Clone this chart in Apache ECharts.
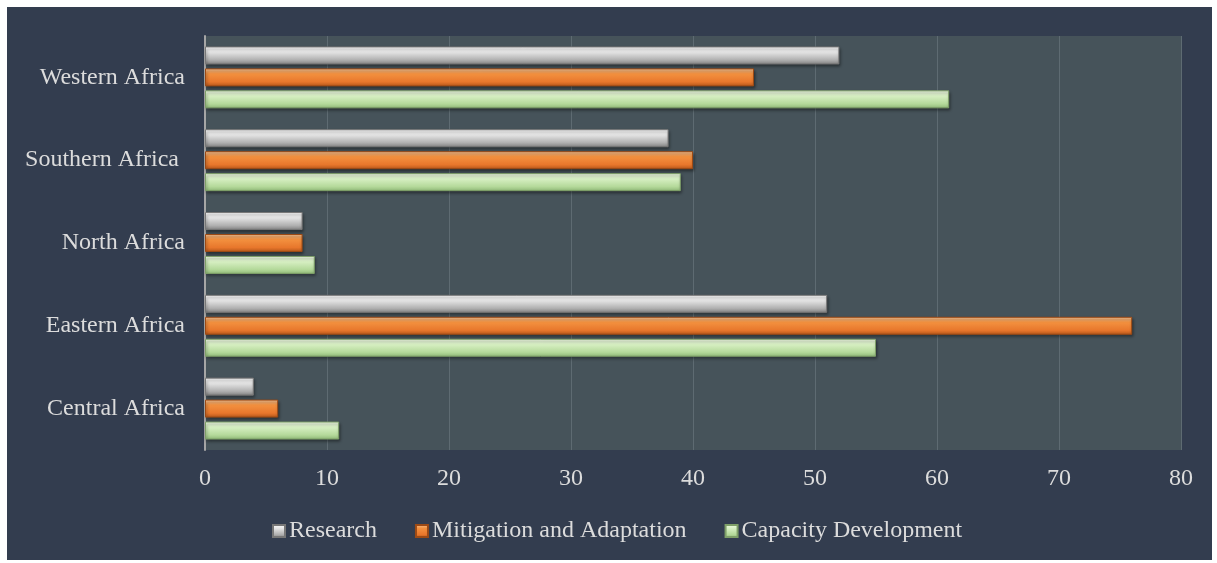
<!DOCTYPE html>
<html><head><meta charset="utf-8">
<script src="https://cdn.jsdelivr.net/npm/echarts@6/dist/echarts.min.js"></script>
<style>html,body{margin:0;padding:0;background:#fff;}#c{position:absolute;left:7px;top:7px;width:1205px;height:553px;}</style>
</head><body><div id="c"></div>
<script>
const categories = ['Central Africa','Eastern Africa','North Africa','Southern Africa ','Western Africa'];
const research = [4, 51, 8, 38, 52];
const mitigation = [6, 76, 8, 40, 45];
const capacity = [11, 55, 9, 39, 61];
const xTicks = {min:0, max:80, interval:10};

function grad(a,b,c,d){
  return new echarts.graphic.LinearGradient(0,0,0,1,[
    {offset:0,color:a},{offset:0.3,color:b},{offset:0.75,color:c},{offset:1,color:d}]);
}
const serif = '"Liberation Serif","DejaVu Serif",serif';
const chart = echarts.init(document.getElementById('c'));
const mk = (name, data, g, border) => ({
  name, type:'bar', data, barWidth:18, barGap:'22%',
  itemStyle:{color:g, borderColor:border, borderWidth:1, shadowColor:'rgba(0,0,0,0.45)', shadowBlur:3, shadowOffsetX:1, shadowOffsetY:2}
});
chart.setOption({
  backgroundColor:'#333d4f',
  animation:false,
  textStyle:{fontFamily:serif},
  grid:{left:198, top:29, width:976, height:414, show:true, backgroundColor:'#46535a', borderWidth:0},
  legend:{
    data:['Research','Mitigation and Adaptation','Capacity Development'],
    bottom:12, left:260, itemWidth:12, itemHeight:12, itemGap:38, icon:'rect',
    textStyle:{color:'#dcdcdc', fontSize:24, fontFamily:serif, padding:[0,0,0,-1]}
  },
  xAxis:{type:'value', min:xTicks.min, max:xTicks.max, interval:xTicks.interval,
    axisLine:{show:false}, axisTick:{show:false},
    axisLabel:{color:'#dcdcdc', fontSize:24, margin:17, fontFamily:serif},
    splitLine:{lineStyle:{color:'#5e6b72', width:1}}},
  yAxis:{type:'category', data:categories,
    axisLine:{show:true, lineStyle:{color:'#a6a6a6', width:2}}, axisTick:{show:false},
    axisLabel:{color:'#dcdcdc', fontSize:24, margin:20, fontFamily:serif}},
  series:[
    mk('Research', research, grad('#ffffff','#e6e6e6','#b0b0b0','#808080'), '#777777'),
    mk('Mitigation and Adaptation', mitigation, grad('#fbc89a','#f3913f','#e8772c','#b5561a'), '#9c4a15'),
    mk('Capacity Development', capacity, grad('#f3fde9','#d8f0c4','#b4d99a','#8fb877'), '#7e9f68')
  ]
});
</script></body></html>
